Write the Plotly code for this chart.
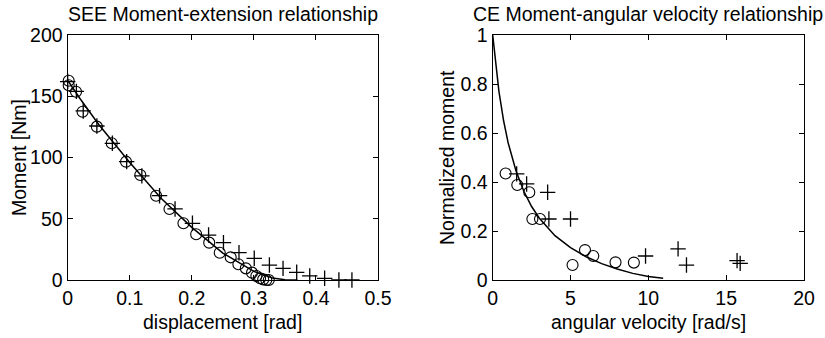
import plotly.graph_objects as go

# ---- Left panel: SEE moment-extension ----
see_circ_x = [0.0016, 0.0016, 0.0134, 0.024, 0.047, 0.071, 0.094, 0.117, 0.1425, 0.164,
              0.1865, 0.207, 0.228, 0.245, 0.2626, 0.275, 0.287, 0.297, 0.304, 0.31,
              0.315, 0.32, 0.324]
see_circ_y = [162.7, 159, 153.7, 137.4, 125.2, 111.6, 96.6, 85.7, 68.8, 58,
              46.3, 37.3, 30.5, 22.3, 18.5, 12.8, 9.5, 6, 3.3, 1.4,
              0.5, 0, 0]
see_plus_x = [0.0, 0.014, 0.025, 0.047, 0.072, 0.095, 0.1195, 0.148, 0.173, 0.201,
              0.227, 0.251, 0.276, 0.3006, 0.325, 0.347, 0.369, 0.39, 0.414, 0.437, 0.458]
see_plus_y = [162, 154, 138, 125.7, 111.6, 96.6, 85, 68.8, 58, 46.3,
              36.7, 30.5, 22.3, 17.7, 12.2, 9.5, 6.3, 3.3, 1.4, 0, 0]
see_fit_x = [0.0, 0.02, 0.05, 0.1, 0.15, 0.2, 0.25, 0.3, 0.33, 0.35, 0.37]
see_fit_y = [163, 148, 127, 96, 67, 43, 22, 7, 1.7, 0.2, 0]

# ---- Right panel: CE moment-angular velocity ----
ce_circ_x = [0.83, 1.58, 2.35, 2.55, 3.04, 5.13, 5.93, 6.46, 7.89, 9.07]
ce_circ_y = [0.435, 0.388, 0.358, 0.249, 0.249, 0.061, 0.122, 0.098, 0.072, 0.071]
ce_plus_x = [1.54, 2.18, 3.53, 3.61, 5.0, 9.82, 11.91, 12.45, 15.7, 15.9]
ce_plus_y = [0.433, 0.392, 0.358, 0.249, 0.249, 0.098, 0.127, 0.061, 0.079, 0.068]
ce_fit_x = [0.0, 0.2, 0.4, 0.7, 1.0, 1.5, 2.0, 2.5, 3.0, 4.0, 5.0, 6.0, 7.0, 8.0, 9.0, 10.0, 10.95]
ce_fit_y = [1.0, 0.872, 0.770, 0.650, 0.558, 0.445, 0.362, 0.300, 0.252, 0.181, 0.132,
            0.095, 0.067, 0.045, 0.027, 0.014, 0.007]

titles = ["SEE Moment-extension relationship", "CE Moment-angular velocity relationship"]
xtitles = ["displacement [rad]", "angular velocity [rad/s]"]
ytitles = ["Moment [Nm]", "Normalized moment"]

FONT = "Liberation Sans, Arial, Helvetica, sans-serif"
FS = 19.5
W, H = 825, 338

fig = go.Figure()

def add_panel(xa, ya, cx, cy, px, py, fx, fy):
    fig.add_trace(go.Scatter(x=fx, y=fy, mode="lines", line=dict(color="black", width=1.5),
                             xaxis=xa, yaxis=ya, showlegend=False, cliponaxis=False))
    fig.add_trace(go.Scatter(x=cx, y=cy, mode="markers",
                             marker=dict(symbol="circle-open", size=11, color="black",
                                         line=dict(width=1.1, color="black")),
                             xaxis=xa, yaxis=ya, showlegend=False, cliponaxis=False))
    fig.add_trace(go.Scatter(x=px, y=py, mode="markers",
                             marker=dict(symbol="cross-thin-open", size=11, color="black",
                                         line=dict(width=1.3, color="black")),
                             xaxis=xa, yaxis=ya, showlegend=False, cliponaxis=False))

add_panel("x", "y", see_circ_x, see_circ_y, see_plus_x, see_plus_y, see_fit_x, see_fit_y)
add_panel("x2", "y2", ce_circ_x, ce_circ_y, ce_plus_x, ce_plus_y, ce_fit_x, ce_fit_y)

px_left = (67.7, 378.0)
px_right = (492.7, 804.0)
px_top, px_bot = 35.0, 280.0
ydom = [1 - px_bot / H, 1 - px_top / H]

axis_common = dict(showline=True, linecolor="black", linewidth=1.3, mirror="ticks",
                   ticks="inside", ticklen=5, tickcolor="black", tickwidth=1,
                   showgrid=False, zeroline=False, automargin=False,
                   tickfont=dict(family=FONT, size=FS, color="black"))

fig.update_layout(
    template="none",
    width=W, height=H, margin=dict(l=0, r=0, t=0, b=0, autoexpand=False),
    paper_bgcolor="white", plot_bgcolor="white",
    font=dict(family=FONT, size=FS, color="black"),
    xaxis=dict(domain=[px_left[0] / W, px_left[1] / W], range=[0, 0.5], dtick=0.1,
               anchor="y", ticklabelstandoff=0, **axis_common),
    yaxis=dict(domain=ydom, range=[0, 200], dtick=50, anchor="x", **axis_common),
    xaxis2=dict(domain=[px_right[0] / W, px_right[1] / W], range=[0, 20], dtick=5,
                anchor="y2", ticklabelstandoff=0, **axis_common),
    yaxis2=dict(domain=ydom, range=[0, 1], dtick=0.2, anchor="x2", **axis_common),
)

anns = []
for (l, r), t, xt, yt, ycx in [(px_left, titles[0], xtitles[0], ytitles[0], 19),
                               (px_right, titles[1], xtitles[1], ytitles[1], 447)]:
    cx = (l + r) / 2
    anns.append(dict(text=t, x=cx / W, y=1 - 14 / H, xref="paper", yref="paper",
                     xanchor="center", yanchor="middle", showarrow=False,
                     font=dict(family=FONT, size=FS, color="black")))
    anns.append(dict(text=xt, x=cx / W, y=1 - 322 / H, xref="paper", yref="paper",
                     xanchor="center", yanchor="middle", showarrow=False,
                     font=dict(family=FONT, size=FS, color="black")))
    anns.append(dict(text=yt, x=ycx / W, y=1 - 158 / H, xref="paper", yref="paper",
                     xanchor="center", yanchor="middle", showarrow=False, textangle=-90,
                     font=dict(family=FONT, size=FS, color="black")))
fig.update_layout(annotations=anns)

fig.write_html("out.html")
